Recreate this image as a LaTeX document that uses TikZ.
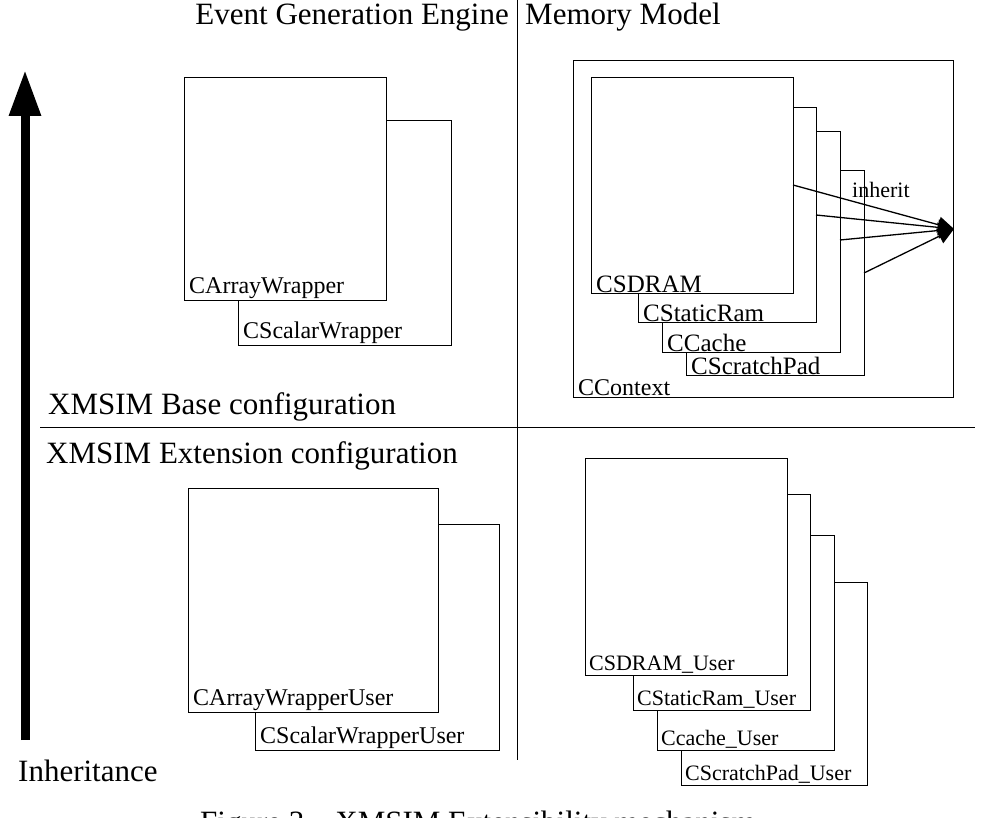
\documentclass[tikz,border=0pt]{standalone}
\usepackage{fontspec}
\setmainfont{Liberation Serif}
\usetikzlibrary{arrows.meta}
\begin{document}
\begin{tikzpicture}[x=1pt,y=-1pt,
  box/.style={draw,fill=white,anchor=north west,inner sep=0pt,line width=0.8pt},
  lbl/.style={anchor=south west,inner xsep=5pt,inner ysep=1pt,font=\fontsize{24}{24}\selectfont},
  mid/.style={font=\fontsize{25}{25}\selectfont,inner ysep=0pt},
  usr/.style={font=\fontsize{22}{22}\selectfont,inner xsep=4pt},
  big/.style={font=\fontsize{31}{31}\selectfont,inner sep=0pt}]
\useasboundingbox (0,0) rectangle (994,818);
\clip (0,0) rectangle (994,818);
\newcommand{\cls}[7][]{% style, name, x1,y1,x2,y2, text
  \node[box,minimum width={#5-#3},minimum height={#6-#4}] (#2) at (#3,#4) {};
  \node[lbl,#1] (#2l) at (#3,#6) {#7};}
% dividers
\coordinate (vt) at (517,0); \coordinate (vb) at (517,760);
\coordinate (hl) at (40,428); \coordinate (hr) at (975,428);
\draw[line width=1pt] (vt) -- (vb);
\draw[line width=1pt] (hl) -- (hr);
% titles
\node[big,anchor=base east] (eg) at (509,25) {Event Generation Engine};
\node[big,anchor=base west] (mm) at (525,25) {Memory Model};
\node[big,anchor=base west] (bc) at (48,415) {XMSIM Base configuration};
\node[big,anchor=base west] (ec) at (46,463) {XMSIM Extension configuration};
\node[big,anchor=base west] (inh) at (18,781) {Inheritance};
\node[big,anchor=base west] (cap) at (200,832) {Figure 3 -- XMSIM Extensibility mechanism};
% inheritance arrow
\coordinate (ab) at (25,740); \coordinate (at) at (25,70);
\draw[line width=9pt,-{Triangle[length=46pt,width=30pt]}] (ab) -- (at);
% event generation engine
\cls{sw}{238}{120}{451}{345}{CScalarWrapper}
\cls{aw}{184}{77}{386}{300}{CArrayWrapper}
% memory model
\cls{ctx}{573}{60}{953}{397}{CContext}
\cls[mid]{sp}{686}{170}{864}{375}{CScratchPad}
\cls[mid]{cc}{662}{131}{840}{352}{CCache}
\cls[mid]{sr}{638}{107}{816}{322}{CStaticRam}
\cls[mid]{sd}{591}{77}{793}{293}{CSDRAM}
\node[lbl,font=\fontsize{22}{22}\selectfont,anchor=base west,inner sep=0pt] (inht) at (852,198) {inherit};
\coordinate (tip) at (954,229);
\foreach \p in {(793,185),(816,215),(840,240),(864,273)}
  \draw[line width=1.3pt,-{Triangle[length=16pt,width=16pt]}] \p -- (tip);
% extension, event generation
\cls{swu}{255}{524}{499}{750}{CScalarWrapperUser}
\cls{awu}{188}{488}{438}{712}{CArrayWrapperUser}
% extension, memory
\cls[usr]{spu}{681}{582}{867}{785}{CScratchPad\_User}
\cls[usr]{ccu}{657}{535}{834}{750}{Ccache\_User}
\cls[usr]{sru}{633}{494}{810}{710}{CStaticRam\_User}
\cls[usr]{sdu}{585}{458}{787}{675}{CSDRAM\_User}
\end{tikzpicture}
\end{document}
